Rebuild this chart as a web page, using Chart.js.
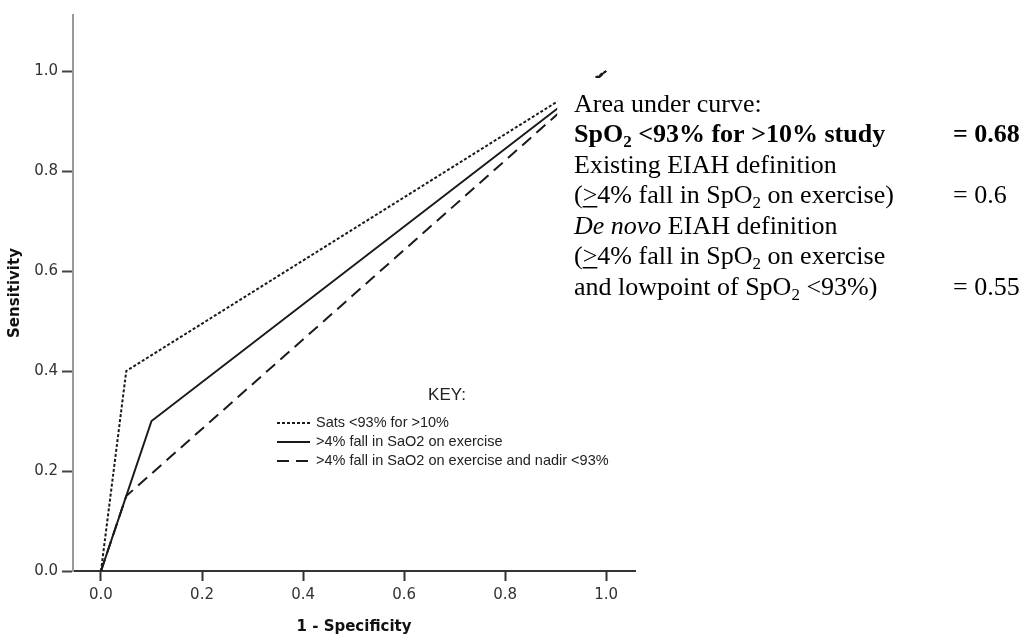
<!DOCTYPE html>
<html>
<head>
<meta charset="utf-8">
<script src="https://cdn.jsdelivr.net/npm/chart.js@4"></script>
<style>
  body { margin: 0; background: #fff; }
  canvas { display: block; }
</style>
</head>
<body>
<canvas id="rocChart" width="1029" height="637"></canvas>
<script>
// Dados das curvas ROC (1 - especificidade, sensibilidade)
const satsX = [0, 0.05, 1];
const satsY = [0, 0.4, 1];
const fallX = [0, 0.1, 1];
const fallY = [0, 0.3, 1];
const nadirX = [0, 0.05, 1];
const nadirY = [0, 0.15, 1];

const seriesLabels = [
  "Sats <93% for >10%",
  ">4% fall in SaO2 on exercise",
  ">4% fall in SaO2 on exercise and nadir <93%"
];
const tickValues = [0, 0.2, 0.4, 0.6, 0.8, 1.0];

const lineColor = "#1a1a1a";
const dashes = [[3, 2], [], [12, 7]];

function toPoints(xs, ys) {
  return xs.map((x, i) => ({ x: x, y: ys[i] }));
}

// Legenda "KEY:" dentro da área do gráfico
const keyLegend = {
  id: "keyLegend",
  afterDraw(chart) {
    const ctx = chart.ctx;
    ctx.save();
    ctx.fillStyle = "#222";
    ctx.textAlign = "center";
    ctx.textBaseline = "middle";
    ctx.font = '17px "Liberation Sans"';
    ctx.fillText("KEY:", 447, 395);
    ctx.textAlign = "left";
    ctx.font = '14.5px "Liberation Sans"';
    const rows = [423, 442, 461];
    rows.forEach((y, i) => {
      ctx.beginPath();
      ctx.setLineDash(dashes[i]);
      ctx.lineWidth = 2;
      ctx.strokeStyle = lineColor;
      ctx.moveTo(277, y);
      ctx.lineTo(310, y);
      ctx.stroke();
      ctx.setLineDash([]);
      ctx.fillText(seriesLabels[i], 316, y);
    });
    ctx.restore();
  }
};

// Caixa de texto com a área sob a curva
const aucBox = {
  id: "aucBox",
  afterDatasetsDraw(chart) {
    const ctx = chart.ctx;
    const left = chart.scales.x.getPixelForValue(0.903);
    const top = chart.scales.y.getPixelForValue(0.986);
    ctx.save();
    ctx.fillStyle = "#fff";
    ctx.fillRect(left, top, chart.width - left, 240);

    const serif = '"Liberation Serif", "Times New Roman", serif';
    const reg = "26px " + serif;
    const bold = "bold 26px " + serif;
    const ital = "italic 26px " + serif;
    const subReg = "17px " + serif;
    const subBold = "bold 17px " + serif;
    ctx.fillStyle = "#000";
    ctx.textBaseline = "alphabetic";
    ctx.textAlign = "left";

    function drawRun(x, y, parts) {
      parts.forEach(p => {
        ctx.font = p.font;
        const w = ctx.measureText(p.text).width;
        ctx.fillText(p.text, x, y + (p.dy || 0));
        if (p.under) {
          ctx.fillRect(x, y + 3, w, 1.5);
        }
        x += w;
      });
    }

    const tx = 574;
    const vx = 953;
    drawRun(tx, 112, [{ text: "Area under curve:", font: reg }]);
    drawRun(tx, 142, [
      { text: "SpO", font: bold },
      { text: "2", font: subBold, dy: 5 },
      { text: " <93% for >10% study", font: bold }
    ]);
    drawRun(vx, 142, [{ text: "= 0.68", font: bold }]);
    drawRun(tx, 173, [{ text: "Existing EIAH definition", font: reg }]);
    drawRun(tx, 203, [
      { text: "(", font: reg },
      { text: ">", font: reg, under: true },
      { text: "4% fall in SpO", font: reg },
      { text: "2", font: subReg, dy: 5 },
      { text: " on exercise)", font: reg }
    ]);
    drawRun(vx, 203, [{ text: "= 0.6", font: reg }]);
    drawRun(tx, 234, [
      { text: "De novo", font: ital },
      { text: " EIAH definition", font: reg }
    ]);
    drawRun(tx, 264, [
      { text: "(", font: reg },
      { text: ">", font: reg, under: true },
      { text: "4% fall in SpO", font: reg },
      { text: "2", font: subReg, dy: 5 },
      { text: " on exercise", font: reg }
    ]);
    drawRun(tx, 295, [
      { text: "and lowpoint of SpO", font: reg },
      { text: "2", font: subReg, dy: 5 },
      { text: " <93%)", font: reg }
    ]);
    drawRun(vx, 295, [{ text: "= 0.55", font: reg }]);
    ctx.restore();
  }
};

const xsList = [satsX, fallX, nadirX];
const ysList = [satsY, fallY, nadirY];

const datasets = seriesLabels.map((label, i) => ({
  label: label,
  data: toPoints(xsList[i], ysList[i]),
  borderColor: lineColor,
  borderWidth: 2,
  borderDash: dashes[i],
  pointRadius: 0,
  fill: false,
  tension: 0
}));

const tickFont = { family: '"DejaVu Sans"', size: 15 };
const titleFont = { family: '"DejaVu Sans"', size: 15, weight: "bold" };

new Chart(document.getElementById("rocChart"), {
  type: "line",
  data: { datasets: datasets },
  plugins: [aucBox, keyLegend],
  options: {
    responsive: false,
    animation: false,
    layout: { padding: { left: 0, right: 394, top: 15, bottom: 1 } },
    plugins: {
      legend: { display: false },
      tooltip: { enabled: false }
    },
    scales: {
      x: {
        type: "linear",
        min: -0.0554,
        max: 1.057,
        afterBuildTicks: axis => { axis.ticks = tickValues.map(v => ({ value: v })); },
        afterFit: axis => { axis.height = 65; },
        ticks: {
          color: "#333",
          font: tickFont,
          padding: 5,
          maxRotation: 0,
          callback: v => v.toFixed(1)
        },
        grid: {
          display: true,
          drawOnChartArea: false,
          drawTicks: true,
          tickLength: 10,
          tickColor: "#333",
          tickWidth: 2
        },
        border: { display: true, color: "#333", width: 2 },
        title: {
          display: true,
          text: "1 - Specificity",
          color: "#111",
          font: titleFont,
          padding: { top: 0, bottom: 0 }
        }
      },
      y: {
        type: "linear",
        min: 0,
        max: 1.112,
        afterBuildTicks: axis => { axis.ticks = tickValues.map(v => ({ value: v })); },
        afterFit: axis => { axis.width = 73; },
        ticks: {
          color: "#333",
          font: tickFont,
          padding: 4,
          callback: v => v.toFixed(1)
        },
        grid: {
          display: true,
          drawOnChartArea: false,
          drawTicks: true,
          tickLength: 11,
          tickColor: "#444",
          tickWidth: 2
        },
        border: { display: true, color: "#999", width: 2 },
        title: {
          display: true,
          text: "Sensitivity",
          color: "#111",
          font: titleFont,
          padding: { top: 6, bottom: 0 }
        }
      }
    }
  }
});
</script>
</body>
</html>
